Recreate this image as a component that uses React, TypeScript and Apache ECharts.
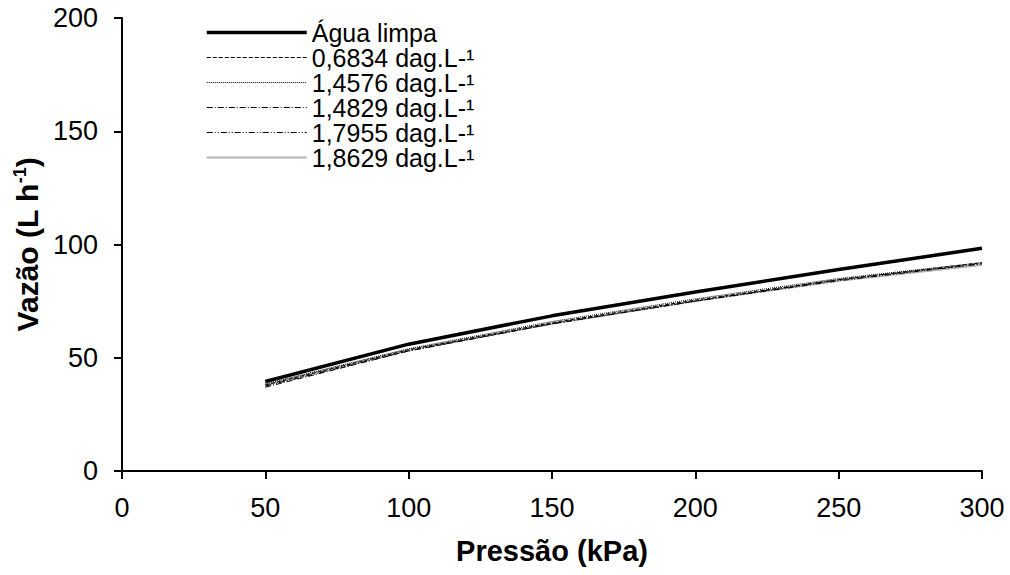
import React, { useEffect, useRef } from "react";
import * as echarts from "echarts";

const pressures = [50, 100, 150, 200, 250, 300];
const seriesNames = [
  "Água limpa",
  "0,6834 dag.L-¹",
  "1,4576 dag.L-¹",
  "1,4829 dag.L-¹",
  "1,7955 dag.L-¹",
  "1,8629 dag.L-¹",
];
const aguaLimpa = [39.5, 56, 68.5, 79, 89, 98.3];
const c06834 = [38, 53.5, 65.5, 75.5, 84.5, 92];
const c14576 = [38.5, 54, 66, 76, 85, 92];
const c14829 = [37, 53, 65, 75, 84.5, 91.5];
const c17955 = [37.5, 53, 65, 75, 84, 91.5];
const c18629 = [38, 53.5, 65, 75, 84, 91];
const xTicks = [0, 50, 100, 150, 200, 250, 300];
const yTicks = [0, 50, 100, 150, 200];

const seriesData = [aguaLimpa, c06834, c14576, c14829, c17955, c18629];
const seriesStyles = [
  { color: "#000", width: 3.5, type: "solid" as any },
  { color: "#000", width: 1, type: [4, 2] as any },
  { color: "#000", width: 1, type: [1, 1] as any },
  { color: "#000", width: 1, type: [6, 2, 1, 2] as any },
  { color: "#000", width: 1, type: [6, 2, 1, 2, 1, 2] as any },
  { color: "#b4b4b4", width: 2, type: "solid" as any },
];

export default function App() {
  const ref = useRef<HTMLDivElement>(null);
  useEffect(() => {
    if (!ref.current) return;
    const chart = echarts.init(ref.current, undefined, { renderer: "svg" });
    const font = "Liberation Sans, Arial, sans-serif";
    chart.setOption({
      animation: false,
      backgroundColor: "#fff",
      grid: {
        left: 122,
        right: 28,
        top: 18,
        bottom: 104,
        containLabel: false,
        outerBoundsMode: "none",
      },
      legend: {
        orient: "vertical",
        left: 205,
        top: 20,
        padding: 0,
        itemWidth: 100,
        itemHeight: 14,
        itemGap: 0,
        itemStyle: { opacity: 0 },
        textStyle: { fontFamily: font, fontSize: 25, color: "#000" },
        data: seriesNames.map((n, i) => ({
          name: n,
          lineStyle: {
            width: seriesStyles[i].width,
            type: seriesStyles[i].type,
            color: seriesStyles[i].color,
          },
        })),
      },
      xAxis: {
        type: "value",
        min: 0,
        max: 300,
        interval: 50,
        name: "Pressão (kPa)",
        nameLocation: "middle",
        nameGap: 65,
        nameTextStyle: { fontFamily: font, fontSize: 29, fontWeight: "bold", color: "#000" },
        axisLine: { show: true, lineStyle: { color: "#000", width: 2 } },
        axisTick: { show: true, length: 8, lineStyle: { color: "#000", width: 2 } },
        axisLabel: {
          fontFamily: font,
          fontSize: 27,
          color: "#000",
          margin: 23,
          formatter: (v: number) => (xTicks.includes(v) ? String(v) : ""),
        },
        splitLine: { show: false },
      },
      yAxis: {
        type: "value",
        min: 0,
        max: 200,
        interval: 50,
        name: "Vazão (L h{sup|-1})",
        nameLocation: "middle",
        nameGap: 74,
        nameRotate: 90,
        nameTextStyle: {
          fontFamily: font,
          fontSize: 30,
          fontWeight: "bold",
          color: "#000",
          rich: {
            sup: {
              fontFamily: font,
              fontSize: 18,
              fontWeight: "bold",
              color: "#000",
              verticalAlign: "top",
              padding: [0, 0, 15, 0],
            },
          },
        },
        axisLine: { show: true, onZero: false, lineStyle: { color: "#000", width: 2 } },
        axisTick: { show: true, length: 8, lineStyle: { color: "#000", width: 2 } },
        axisLabel: {
          fontFamily: font,
          fontSize: 27,
          color: "#000",
          margin: 24,
          formatter: (v: number) => (yTicks.includes(v) ? String(v) : ""),
        },
        splitLine: { show: false },
      },
      series: seriesNames.map((name, i) => ({
        name,
        type: "line",
        symbol: "none",
        showSymbol: false,
        smooth: false,
        data: pressures.map((p, j) => [p, seriesData[i][j]]),
        lineStyle: seriesStyles[i],
        itemStyle: { color: seriesStyles[i].color },
        z: 10 - i,
      })),
    });
    return () => chart.dispose();
  }, []);
  return (
    <div
      ref={ref}
      style={{ position: "absolute", left: 0, top: 0, width: 1010, height: 575 }}
    />
  );
}
